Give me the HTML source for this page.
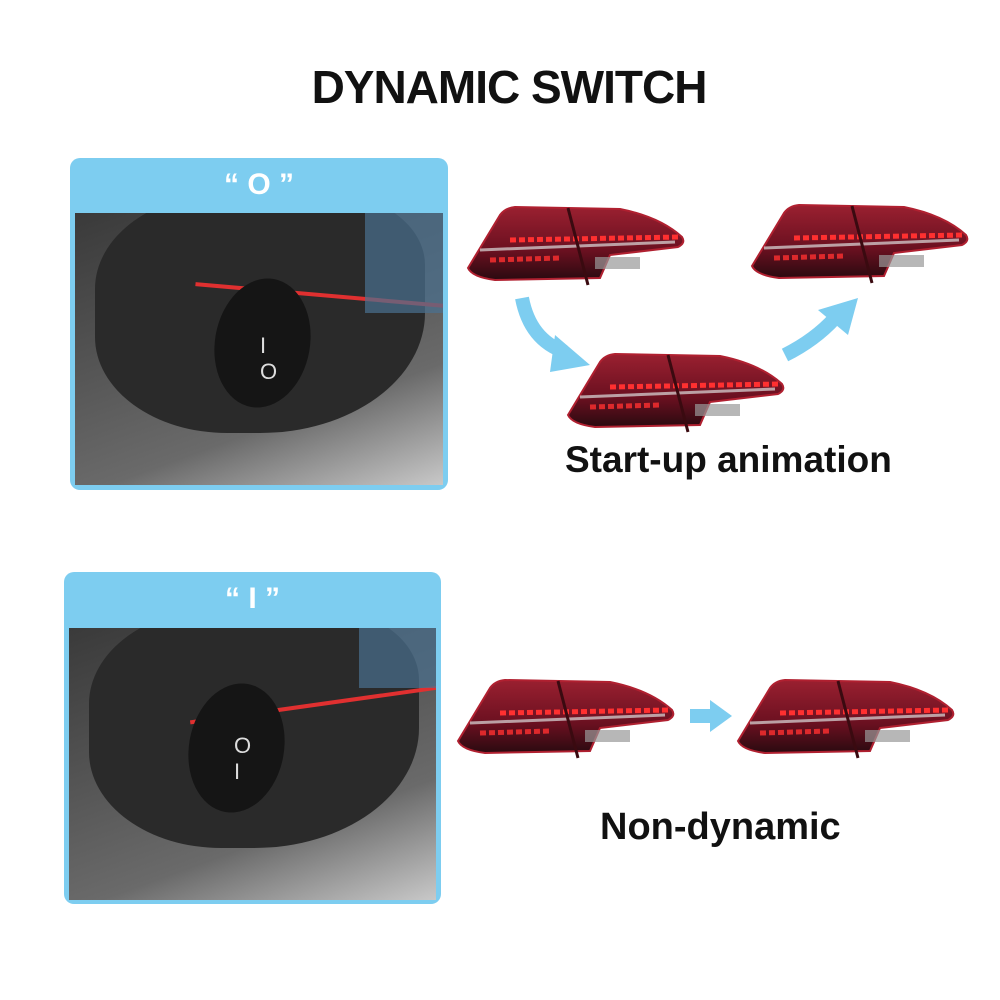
<!DOCTYPE html>
<html><head><meta charset="utf-8"><style>
body{margin:0;width:1000px;height:1000px;background:#fff;position:relative;overflow:hidden;font-family:"Liberation Sans",sans-serif}
.t{position:absolute;font-weight:bold;color:#111;white-space:nowrap}
.panel{position:absolute;background:#7dcdf0;border-radius:10px}
.hd{position:absolute;left:0;right:0;top:0;text-align:center;color:#fff;font-weight:bold;font-size:30px}
.ph{position:absolute;background:linear-gradient(160deg,#3a3a3a 0%,#555 40%,#6a6a6a 70%,#c8c8c8 100%);overflow:hidden}
</style></head><body>
<svg width="0" height="0" style="position:absolute">
<defs>
<linearGradient id="g" x1="0" y1="0" x2="0" y2="1"><stop offset="0" stop-color="#9a2030"/><stop offset=".6" stop-color="#6a1020"/><stop offset="1" stop-color="#2a0a10"/></linearGradient>
<g id="tl">
<path d="M8,73 L40,20 Q45,13 55,12 L160,14 Q200,22 222,42 Q226,48 218,52 L150,60 L140,83 L35,85 Q12,82 8,73 Z" fill="url(#g)" stroke="#b02030" stroke-width="2"/>
<path d="M20,55 L215,47" stroke="#ddd" stroke-width="3" opacity=".7"/>
<path d="M50,45 L220,42" stroke="#ff3030" stroke-width="5" stroke-dasharray="6 3"/>
<path d="M30,65 L100,63" stroke="#ff3030" stroke-width="5" stroke-dasharray="6 3" opacity=".8"/>
<path d="M108,13 L128,90" stroke="#3a0a10" stroke-width="3"/>
<rect x="135" y="62" width="45" height="12" fill="#999" opacity=".7"/>
</g>
</defs></svg>
<div class="t" style="left:0;width:1018px;text-align:center;top:60px;font-size:46px;letter-spacing:-1px">DYNAMIC SWITCH</div>

<div class="panel" style="left:70px;top:158px;width:378px;height:332px">
<div class="hd" style="top:10px">“ O ”</div>
<div class="ph" style="left:5px;top:55px;width:368px;height:272px">
<div style="position:absolute;left:20px;top:-20px;width:330px;height:240px;background:#2a2a2a;border-radius:40% 30% 50% 40%"></div>
<div style="position:absolute;left:120px;top:80px;width:250px;height:4px;background:#e03030;transform:rotate(5deg)"></div>
<div style="position:absolute;left:140px;top:65px;width:95px;height:130px;background:#151515;border-radius:50%;transform:rotate(10deg)"></div>
<div style="position:absolute;left:185px;top:120px;color:#ddd;font-size:22px">I<br>O</div>
<div style="position:absolute;left:290px;top:0;width:80px;height:100px;background:#4a7090;opacity:.7"></div>
</div></div>

<div class="panel" style="left:64px;top:572px;width:377px;height:332px">
<div class="hd" style="top:10px">“ I ”</div>
<div class="ph" style="left:5px;top:56px;width:367px;height:272px">
<div style="position:absolute;left:20px;top:-20px;width:330px;height:240px;background:#2a2a2a;border-radius:40% 30% 50% 40%"></div>
<div style="position:absolute;left:120px;top:75px;width:250px;height:4px;background:#e03030;transform:rotate(-8deg)"></div>
<div style="position:absolute;left:120px;top:55px;width:95px;height:130px;background:#151515;border-radius:50%;transform:rotate(10deg)"></div>
<div style="position:absolute;left:165px;top:105px;color:#ddd;font-size:22px">O<br>I</div>
<div style="position:absolute;left:290px;top:0;width:80px;height:60px;background:#4a7090;opacity:.7"></div>
</div></div>

<svg style="position:absolute;left:0;top:0" width="1000" height="1000">
<use href="#tl" x="460" y="195"/>
<use href="#tl" x="744" y="193"/>
<use href="#tl" x="560" y="342"/>
<use href="#tl" x="450" y="668"/>
<use href="#tl" x="730" y="668"/>
<path d="M522,298 Q530,340 565,352" stroke="#7dcdf0" stroke-width="14" fill="none"/>
<polygon points="555,335 590,365 550,372" fill="#7dcdf0"/>
<path d="M785,355 Q815,340 835,318" stroke="#7dcdf0" stroke-width="14" fill="none"/>
<polygon points="818,310 858,298 848,335" fill="#7dcdf0"/>
<rect x="690" y="709" width="22" height="14" fill="#7dcdf0"/>
<polygon points="710,700 732,716 710,732" fill="#7dcdf0"/>
</svg>
<div class="t" style="left:565px;top:439px;font-size:37px">Start-up animation</div>
<div class="t" style="left:600px;top:806px;font-size:38px">Non-dynamic</div>
</body></html>
